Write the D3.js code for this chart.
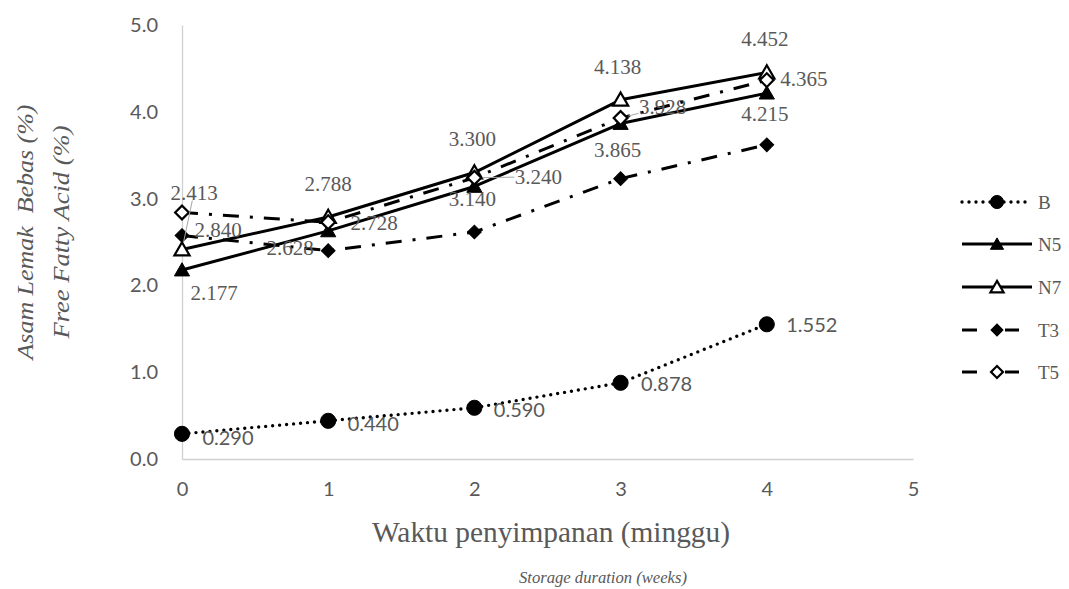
<!DOCTYPE html>
<html>
<head>
<meta charset="utf-8">
<script src="https://cdn.jsdelivr.net/npm/d3@7"></script>
<style>
  html, body { margin: 0; padding: 0; background: #fff; }
  svg { display: block; }
</style>
</head>
<body>
<svg id="chart" width="1069" height="589"></svg>
<script>
// ---------- DATA ----------
const weeks = [0, 1, 2, 3, 4];
const seriesNames = ["B", "N5", "N7", "T3", "T5"];
const valuesB  = [0.290, 0.440, 0.590, 0.878, 1.552];
const valuesN5 = [2.177, 2.628, 3.140, 3.865, 4.215];
const valuesN7 = [2.413, 2.788, 3.300, 4.138, 4.452];
const valuesT3 = [2.575, 2.400, 2.615, 3.230, 3.620];
const valuesT5 = [2.840, 2.728, 3.240, 3.928, 4.365];
// data-label texts as printed on the chart (T3 carries none)
const labelsB  = ["0.290", "0.440", "0.590", "0.878", "1.552"];
const labelsN5 = ["2.177", "2.628", "3.140", "3.865", "4.215"];
const labelsN7 = ["2.413", "2.788", "3.300", "4.138", "4.452"];
const labelsT3 = [];
const labelsT5 = ["2.840", "2.728", "3.240", "3.928", "4.365"];
const yTicks = [0, 1, 2, 3, 4, 5];
const xTicks = [0, 1, 2, 3, 4, 5];
const xTitle = "Waktu penyimpanan (minggu)";
const xSubTitle = "Storage duration (weeks)";
const yTitle1 = "Asam Lemak  Bebas (%)";
const yTitle2 = "Free Fatty Acid (%)";

// ---------- LAYOUT (label offsets in px from each point) ----------
const offB  = [[46, 3], [45, 2], [45, 1], [46, 0], [45, 0]];
const offN5 = [[32, 23], [-38, 17], [-2, 13], [-3, 26], [-2, 21]];
const offN7 = [[12, -57], [0, -33], [-2, -34], [-3, -33], [-2, -34]];
const offT3 = [];
const offT5 = [[36, 18], [46, 1], [64, -1], [42, -11], [37, -1]];
const leadersT5 = [false, false, true, true, false];
const leadersN7 = [true, false, false, false, false];

const series = [
  { name: "B",  values: valuesB,  labels: labelsB,  off: offB,  leaders: [], dash: "0,7", cap: "round", width: 3.4, marker: "circle", fill: "#000", labelFont: "Lato" },
  { name: "N5", values: valuesN5, labels: labelsN5, off: offN5, leaders: [], dash: null, cap: "butt", width: 3, marker: "triangle", fill: "#000", labelFont: "Liberation Serif" },
  { name: "N7", values: valuesN7, labels: labelsN7, off: offN7, leaders: leadersN7, dash: null, cap: "butt", width: 3, marker: "triangle", fill: "#fff", labelFont: "Liberation Serif" },
  { name: "T3", values: valuesT3, labels: labelsT3, off: offT3, leaders: [], dash: "16,11,3,11", cap: "butt", width: 3, marker: "diamond", fill: "#000", labelFont: "Liberation Serif" },
  { name: "T5", values: valuesT5, labels: labelsT5, off: offT5, leaders: leadersT5, dash: "16,11,3,11", cap: "butt", width: 3, marker: "diamond", fill: "#fff", labelFont: "Liberation Serif" }
];

// ---------- SCALES ----------
const svg = d3.select("#chart");
const x = d3.scaleLinear().domain([0, 5]).range([182, 913]);
const y = d3.scaleLinear().domain([0, 5]).range([459, 25]);
const gray = "#595959";
const axisGray = "#d0d0d0";

// ---------- AXES ----------
const gy = svg.append("g").attr("transform", `translate(${x(0)},0)`)
  .call(d3.axisLeft(y).tickValues(yTicks).tickFormat(d3.format(".1f")).tickSize(0).tickSizeOuter(0).tickPadding(24));
gy.select(".domain").attr("stroke", axisGray).attr("stroke-width", 1.3);
gy.selectAll("text").attr("font-family", "Lato").attr("font-size", 20).attr("fill", gray);

const gx = svg.append("g").attr("transform", `translate(0,${y(0)})`)
  .call(d3.axisBottom(x).tickValues(xTicks).tickFormat(d3.format("d")).tickSize(0).tickSizeOuter(0).tickPadding(23));
gx.select(".domain").attr("stroke", axisGray).attr("stroke-width", 1.3);
gx.selectAll("text").attr("font-family", "Lato").attr("font-size", 20).attr("fill", gray);

// ---------- TITLES ----------
svg.append("text").attr("x", 551).attr("y", 542).attr("text-anchor", "middle")
  .attr("font-family", "Liberation Serif").attr("font-size", 29).attr("fill", gray)
  .attr("textLength", 358).attr("lengthAdjust", "spacingAndGlyphs").text(xTitle);

svg.append("text").attr("x", 603).attr("y", 583).attr("text-anchor", "middle")
  .attr("font-family", "Liberation Serif").attr("font-style", "italic").attr("font-size", 16).attr("fill", gray)
  .attr("textLength", 168).attr("lengthAdjust", "spacingAndGlyphs").text(xSubTitle);

svg.append("text").attr("transform", "translate(25,232) rotate(-90)")
  .attr("text-anchor", "middle").attr("dominant-baseline", "central")
  .style("white-space", "pre")
  .attr("font-family", "Liberation Serif").attr("font-style", "italic").attr("font-size", 23).attr("fill", gray)
  .attr("textLength", 255).attr("lengthAdjust", "spacingAndGlyphs").text(yTitle1);
svg.append("text").attr("transform", "translate(61,232) rotate(-90)")
  .attr("text-anchor", "middle").attr("dominant-baseline", "central")
  .attr("font-family", "Liberation Serif").attr("font-style", "italic").attr("font-size", 23).attr("fill", gray)
  .attr("textLength", 213).attr("lengthAdjust", "spacingAndGlyphs").text(yTitle2);

// ---------- MARKERS ----------
function markerPath(type, scale) {
  if (type === "circle") return d3.symbol(d3.symbolCircle, 180 * scale)();
  if (type === "triangle") return d3.symbol(d3.symbolTriangle, 100 * scale)();
  return d3.symbol(d3.symbolSquare, 95 * scale)();
}
function drawMarker(g, type, fill, cx, cy, scale) {
  const p = g.append("path").attr("d", markerPath(type, scale))
    .attr("fill", fill).attr("stroke", "#000").attr("stroke-width", fill === "#fff" ? 2.2 : 1);
  if (type === "diamond") p.attr("transform", `translate(${cx},${cy}) rotate(45)`);
  else if (type === "triangle") p.attr("transform", `translate(${cx},${cy + 1.5})`);
  else p.attr("transform", `translate(${cx},${cy})`);
  return p;
}

// ---------- SERIES ----------
const line = d3.line().x((d, i) => x(weeks[i])).y(d => y(d));
series.forEach(s => {
  const g = svg.append("g");
  const path = g.append("path").datum(s.values).attr("d", line)
    .attr("fill", "none").attr("stroke", "#000").attr("stroke-width", s.width)
    .attr("stroke-linecap", s.cap).attr("stroke-linejoin", "round");
  if (s.dash) path.attr("stroke-dasharray", s.dash);
  s.values.forEach((v, i) => drawMarker(g, s.marker, s.fill, x(weeks[i]), y(v), 1));
});

// ---------- DATA LABELS ----------
const lblG = svg.append("g");
series.forEach(s => {
  s.labels.forEach((t, i) => {
    const px = x(weeks[i]), py = y(s.values[i]);
    const lx = px + s.off[i][0], ly = py + s.off[i][1];
    if (s.leaders[i]) {
      const w = 24, h = 8;
      const dx = px - lx, dy = py - ly;
      const k = Math.min(Math.abs(w / (dx || 1e-6)), Math.abs(h / (dy || 1e-6)));
      const sx = lx + dx * k, sy = ly + dy * k;
      const len = Math.hypot(px - sx, py - sy);
      const ex = sx + (px - sx) * Math.max(0, (len - 8)) / len;
      const ey = sy + (py - sy) * Math.max(0, (len - 8)) / len;
      lblG.append("line").attr("x1", sx).attr("y1", sy).attr("x2", ex).attr("y2", ey)
        .attr("stroke", "#a6a6a6").attr("stroke-width", 1);
    }
    lblG.append("text").attr("x", lx).attr("y", ly)
      .attr("text-anchor", "middle").attr("dominant-baseline", "central")
      .attr("font-family", s.labelFont).attr("font-size", s.labelFont === "Lato" ? 20 : 21)
      .attr("fill", gray).text(t);
  });
});

// ---------- LEGEND ----------
const legendY = [202, 244, 287, 330, 372];
const leg = svg.append("g");
series.forEach((s, i) => {
  const ly = legendY[i];
  const g = leg.append("g");
  let x1 = 962, x2 = 1032, dash = s.dash;
  if (s.name === "B") { x2 = 1028; }
  if (s.marker === "diamond") { x2 = 1019; dash = "15,28,14"; }
  const l = g.append("line").attr("x1", x1).attr("x2", x2).attr("y1", ly).attr("y2", ly)
    .attr("stroke", "#000").attr("stroke-width", s.width).attr("stroke-linecap", s.cap);
  if (dash) l.attr("stroke-dasharray", dash);
  drawMarker(g, s.marker, s.fill, 997, ly, 0.75);
  g.append("text").attr("x", 1038).attr("y", ly).attr("dominant-baseline", "central")
    .attr("font-family", "Liberation Serif").attr("font-size", 19).attr("fill", gray).text(s.name);
});
</script>
</body>
</html>
